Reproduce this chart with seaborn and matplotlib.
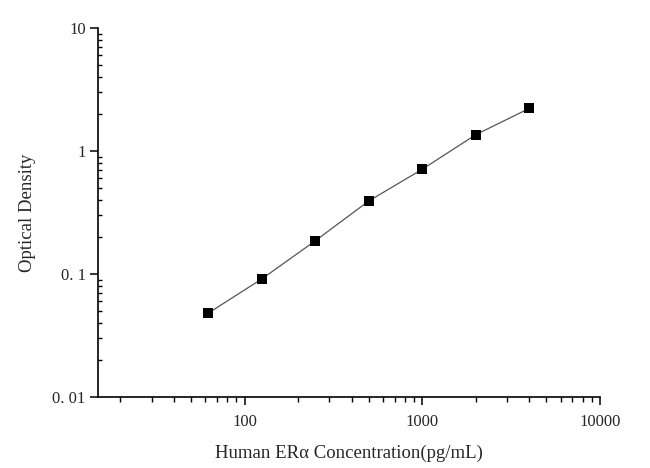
import matplotlib
matplotlib.use("Agg")
import matplotlib.pyplot as plt
import seaborn as sns
import pandas as pd
from matplotlib.ticker import LogLocator, FixedLocator, FixedFormatter, NullFormatter

concentration = [62.5, 125, 250, 500, 1000, 2000, 4000]
optical_density = [0.048, 0.091, 0.186, 0.392, 0.71, 1.357, 2.22]
x_tick_values = [100, 1000, 10000]
x_tick_labels = ["100", "1000", "10000"]
y_tick_values = [0.01, 0.1, 1, 10]
y_tick_labels = ["0. 01", "0. 1", "1", "10"]

df = pd.DataFrame({"conc": concentration, "od": optical_density})

sns.set_theme(style="white")
plt.rcParams['font.family'] = ['Liberation Serif', 'DejaVu Serif']

fig = plt.figure(figsize=(6.5, 4.68), dpi=100)
ax = fig.add_axes([0.151, 0.152, 0.772, 0.788])

sns.lineplot(data=df, x="conc", y="od", ax=ax, color="#555555", linewidth=0.9,
             marker="s", markersize=6.5, markerfacecolor="black",
             markeredgecolor="black", markeredgewidth=0)

ax.set_xscale("log")
ax.set_yscale("log")
ax.set_xlim(15, 10000)
ax.set_ylim(0.01, 10)

ax.xaxis.set_major_locator(FixedLocator(x_tick_values))
ax.xaxis.set_major_formatter(FixedFormatter(x_tick_labels))
ax.xaxis.set_minor_locator(LogLocator(base=10, subs=range(2, 10), numticks=20))
ax.xaxis.set_minor_formatter(NullFormatter())
ax.yaxis.set_major_locator(FixedLocator(y_tick_values))
ax.yaxis.set_major_formatter(FixedFormatter(y_tick_labels))
ax.yaxis.set_minor_locator(LogLocator(base=10, subs=range(2, 10), numticks=20))
ax.yaxis.set_minor_formatter(NullFormatter())

for side in ["top", "right"]:
    ax.spines[side].set_visible(False)
for side in ["left", "bottom"]:
    ax.spines[side].set_color("black")
    ax.spines[side].set_linewidth(1.2)

ax.tick_params(axis="x", which="major", direction="out", length=6, width=1.1,
               color="black", labelsize=12, pad=6, bottom=True)
ax.tick_params(axis="x", which="minor", direction="out", length=3.5, width=1.0,
               color="black", bottom=True)
ax.tick_params(axis="y", which="major", direction="out", length=6, width=1.1,
               color="black", labelsize=12, pad=3, left=True)
ax.tick_params(axis="y", which="minor", direction="in", length=3, width=1.0,
               color="black", left=True)

ax.set_xlabel("Human ERα Concentration(pg/mL)", fontsize=13.5, labelpad=11)
ax.set_ylabel("Optical Density", fontsize=13.5, labelpad=12)

fig.savefig("out.png", dpi=100)
